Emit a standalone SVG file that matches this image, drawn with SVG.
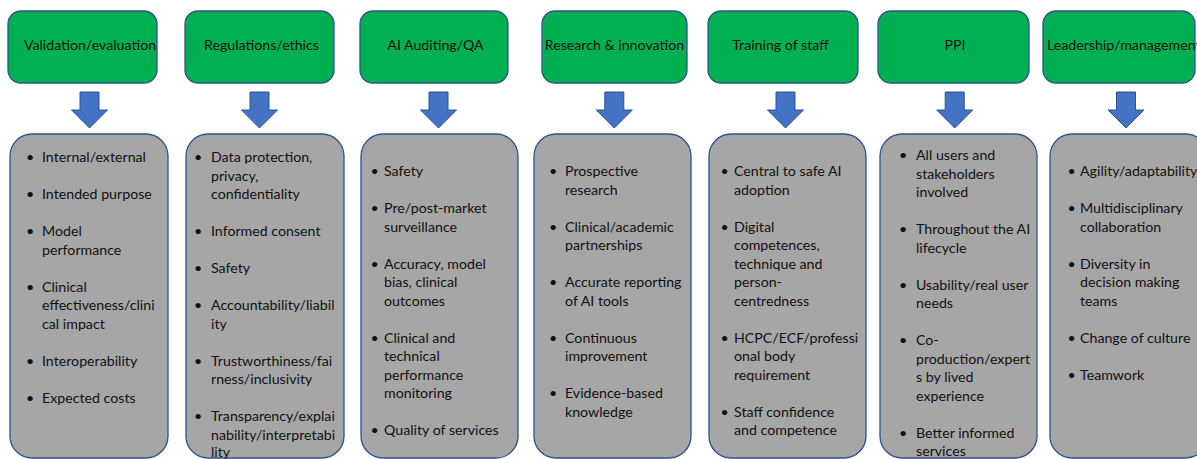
<svg xmlns="http://www.w3.org/2000/svg" xmlns:xlink="http://www.w3.org/1999/xlink" width="1197" height="459" viewBox="0 0 1197 459">
  <style>
    .head { fill: #00B050; stroke: #2F528F; stroke-width: 1.3; }
    .body { fill: #A6A6A6; stroke: #2F528F; stroke-width: 1.3; }
    .arrow { fill: #4472C4; stroke: #2F528F; stroke-width: 1; }
    text { font-family: Lato, "Open Sans", sans-serif; font-size: 14.2px; fill: #111; }
    .ht { text-anchor: middle; }
  </style>
  <defs>
    <!-- block arrow pointing down, centred on x = 0 -->
    <polygon id="blockArrow" class="arrow" points="-9.5,92 9.5,92 9.5,110 18,110 0,128 -18,110 -9.5,110"/>
  </defs>
  <rect width="1197" height="459" fill="#ffffff"/>

  <!-- connectors: header to detail box -->
  <g id="connectors">
    <use xlink:href="#blockArrow" x="89.5"/>
    <use xlink:href="#blockArrow" x="259.5"/>
    <use xlink:href="#blockArrow" x="438.5"/>
    <use xlink:href="#blockArrow" x="614.3"/>
    <use xlink:href="#blockArrow" x="785.5"/>
    <use xlink:href="#blockArrow" x="954.7"/>
    <use xlink:href="#blockArrow" x="1126"/>
  </g>

  <!-- Validation / evaluation -->
  <g id="validation-header">
    <rect class="head" x="8" y="11" width="149" height="72" rx="13"/>
    <text class="ht" x="90" y="50">Validation/evaluation</text>
  </g>
  <g id="validation-details">
    <rect class="body" x="10" y="134" width="158" height="324" rx="22"/>
    <text x="26" y="162">•</text><text x="42" y="162">Internal/external</text>
    <text x="26" y="199">•</text><text x="42" y="199">Intended purpose</text>
    <text x="26" y="236">•</text><text x="42" y="236">Model</text>
    <text x="42" y="254.5">performance</text>
    <text x="26" y="291.5">•</text><text x="42" y="291.5">Clinical</text>
    <text x="42" y="310">effectiveness/clini</text>
    <text x="42" y="328.5">cal impact</text>
    <text x="26" y="365.5">•</text><text x="42" y="365.5">Interoperability</text>
    <text x="26" y="402.5">•</text><text x="42" y="402.5">Expected costs</text>
  </g>

  <!-- Regulations / ethics -->
  <g id="regulations-header">
    <rect class="head" x="185" y="11" width="149" height="72" rx="13"/>
    <text class="ht" x="261.5" y="50">Regulations/ethics</text>
  </g>
  <g id="regulations-details">
    <rect class="body" x="186" y="134" width="158" height="324" rx="22"/>
    <text x="194" y="162">•</text><text x="211" y="162">Data protection,</text>
    <text x="211" y="180.5">privacy,</text>
    <text x="211" y="199">confidentiality</text>
    <text x="194" y="236">•</text><text x="211" y="236">Informed consent</text>
    <text x="194" y="273">•</text><text x="211" y="273">Safety</text>
    <text x="194" y="310">•</text><text x="211" y="310">Accountability/liabil</text>
    <text x="211" y="328.5">ity</text>
    <text x="194" y="365.5">•</text><text x="211" y="365.5">Trustworthiness/fai</text>
    <text x="211" y="384">rness/inclusivity</text>
    <text x="194" y="421">•</text><text x="211" y="421">Transparency/explai</text>
    <text x="211" y="439.5">nability/interpretabi</text>
    <text x="211" y="457">lity</text>
  </g>

  <!-- AI auditing / QA -->
  <g id="auditing-header">
    <rect class="head" x="360" y="11" width="148" height="72" rx="13"/>
    <text class="ht" x="435.5" y="50">AI Auditing/QA</text>
  </g>
  <g id="auditing-details">
    <rect class="body" x="361" y="134" width="157" height="324" rx="22"/>
    <text x="370.5" y="176">•</text><text x="384" y="176">Safety</text>
    <text x="370.5" y="213">•</text><text x="384" y="213">Pre/post-market</text>
    <text x="384" y="231.5">surveillance</text>
    <text x="370.5" y="268.5">•</text><text x="384" y="268.5">Accuracy, model</text>
    <text x="384" y="287">bias, clinical</text>
    <text x="384" y="305.5">outcomes</text>
    <text x="370.5" y="342.5">•</text><text x="384" y="342.5">Clinical and</text>
    <text x="384" y="361">technical</text>
    <text x="384" y="379.5">performance</text>
    <text x="384" y="398">monitoring</text>
    <text x="370.5" y="435">•</text><text x="384" y="435">Quality of services</text>
  </g>

  <!-- Research & innovation -->
  <g id="research-header">
    <rect class="head" x="542" y="11" width="145" height="72" rx="13"/>
    <text class="ht" x="614.5" y="50">Research &amp; innovation</text>
  </g>
  <g id="research-details">
    <rect class="body" x="534" y="134" width="157" height="324" rx="22"/>
    <text x="549" y="176">•</text><text x="565" y="176">Prospective</text>
    <text x="565" y="194.5">research</text>
    <text x="549" y="231.5">•</text><text x="565" y="231.5">Clinical/academic</text>
    <text x="565" y="250">partnerships</text>
    <text x="549" y="287">•</text><text x="565" y="287">Accurate reporting</text>
    <text x="565" y="305.5">of AI tools</text>
    <text x="549" y="342.5">•</text><text x="565" y="342.5">Continuous</text>
    <text x="565" y="361">improvement</text>
    <text x="549" y="398">•</text><text x="565" y="398">Evidence-based</text>
    <text x="565" y="416.5">knowledge</text>
  </g>

  <!-- Training of staff -->
  <g id="training-header">
    <rect class="head" x="708" y="11" width="150" height="72" rx="13"/>
    <text class="ht" x="780.5" y="50">Training of staff</text>
  </g>
  <g id="training-details">
    <rect class="body" x="709" y="134" width="157" height="324" rx="22"/>
    <text x="720.5" y="176">•</text><text x="734" y="176">Central to safe AI</text>
    <text x="734" y="194.5">adoption</text>
    <text x="720.5" y="231.5">•</text><text x="734" y="231.5">Digital</text>
    <text x="734" y="250">competences,</text>
    <text x="734" y="268.5">technique and</text>
    <text x="734" y="287">person-</text>
    <text x="734" y="305.5">centredness</text>
    <text x="720.5" y="342.5">•</text><text x="734" y="342.5">HCPC/ECF/professi</text>
    <text x="734" y="361">onal body</text>
    <text x="734" y="379.5">requirement</text>
    <text x="720.5" y="416.5">•</text><text x="734" y="416.5">Staff confidence</text>
    <text x="734" y="435">and competence</text>
  </g>

  <!-- PPI -->
  <g id="ppi-header">
    <rect class="head" x="878" y="11" width="151" height="72" rx="13"/>
    <text class="ht" x="955" y="50">PPI</text>
  </g>
  <g id="ppi-details">
    <rect class="body" x="880" y="134" width="157" height="324" rx="22"/>
    <text x="899" y="160">•</text><text x="916" y="160">All users and</text>
    <text x="916" y="178.5">stakeholders</text>
    <text x="916" y="197">involved</text>
    <text x="899" y="234">•</text><text x="916" y="234">Throughout the AI</text>
    <text x="916" y="252.5">lifecycle</text>
    <text x="899" y="289.5">•</text><text x="916" y="289.5">Usability/real user</text>
    <text x="916" y="308">needs</text>
    <text x="899" y="345">•</text><text x="916" y="345">Co-</text>
    <text x="916" y="363.5">production/expert</text>
    <text x="916" y="382">s by lived</text>
    <text x="916" y="400.5">experience</text>
    <text x="899" y="437.5">•</text><text x="916" y="437.5">Better informed</text>
    <text x="916" y="456">services</text>
  </g>

  <!-- Leadership / management -->
  <g id="leadership-header">
    <rect class="head" x="1043" y="11" width="152" height="72" rx="13"/>
    <text x="1047" y="50">Leadership/management</text>
  </g>
  <g id="leadership-details">
    <rect class="body" x="1050" y="134" width="158" height="324" rx="22"/>
    <text x="1067.5" y="176">•</text><text x="1080" y="176">Agility/adaptability</text>
    <text x="1067.5" y="213">•</text><text x="1080" y="213">Multidisciplinary</text>
    <text x="1080" y="231.5">collaboration</text>
    <text x="1067.5" y="268.5">•</text><text x="1080" y="268.5">Diversity in</text>
    <text x="1080" y="287">decision making</text>
    <text x="1080" y="305.5">teams</text>
    <text x="1067.5" y="342.5">•</text><text x="1080" y="342.5">Change of culture</text>
    <text x="1067.5" y="379.5">•</text><text x="1080" y="379.5">Teamwork</text>
  </g>
</svg>
